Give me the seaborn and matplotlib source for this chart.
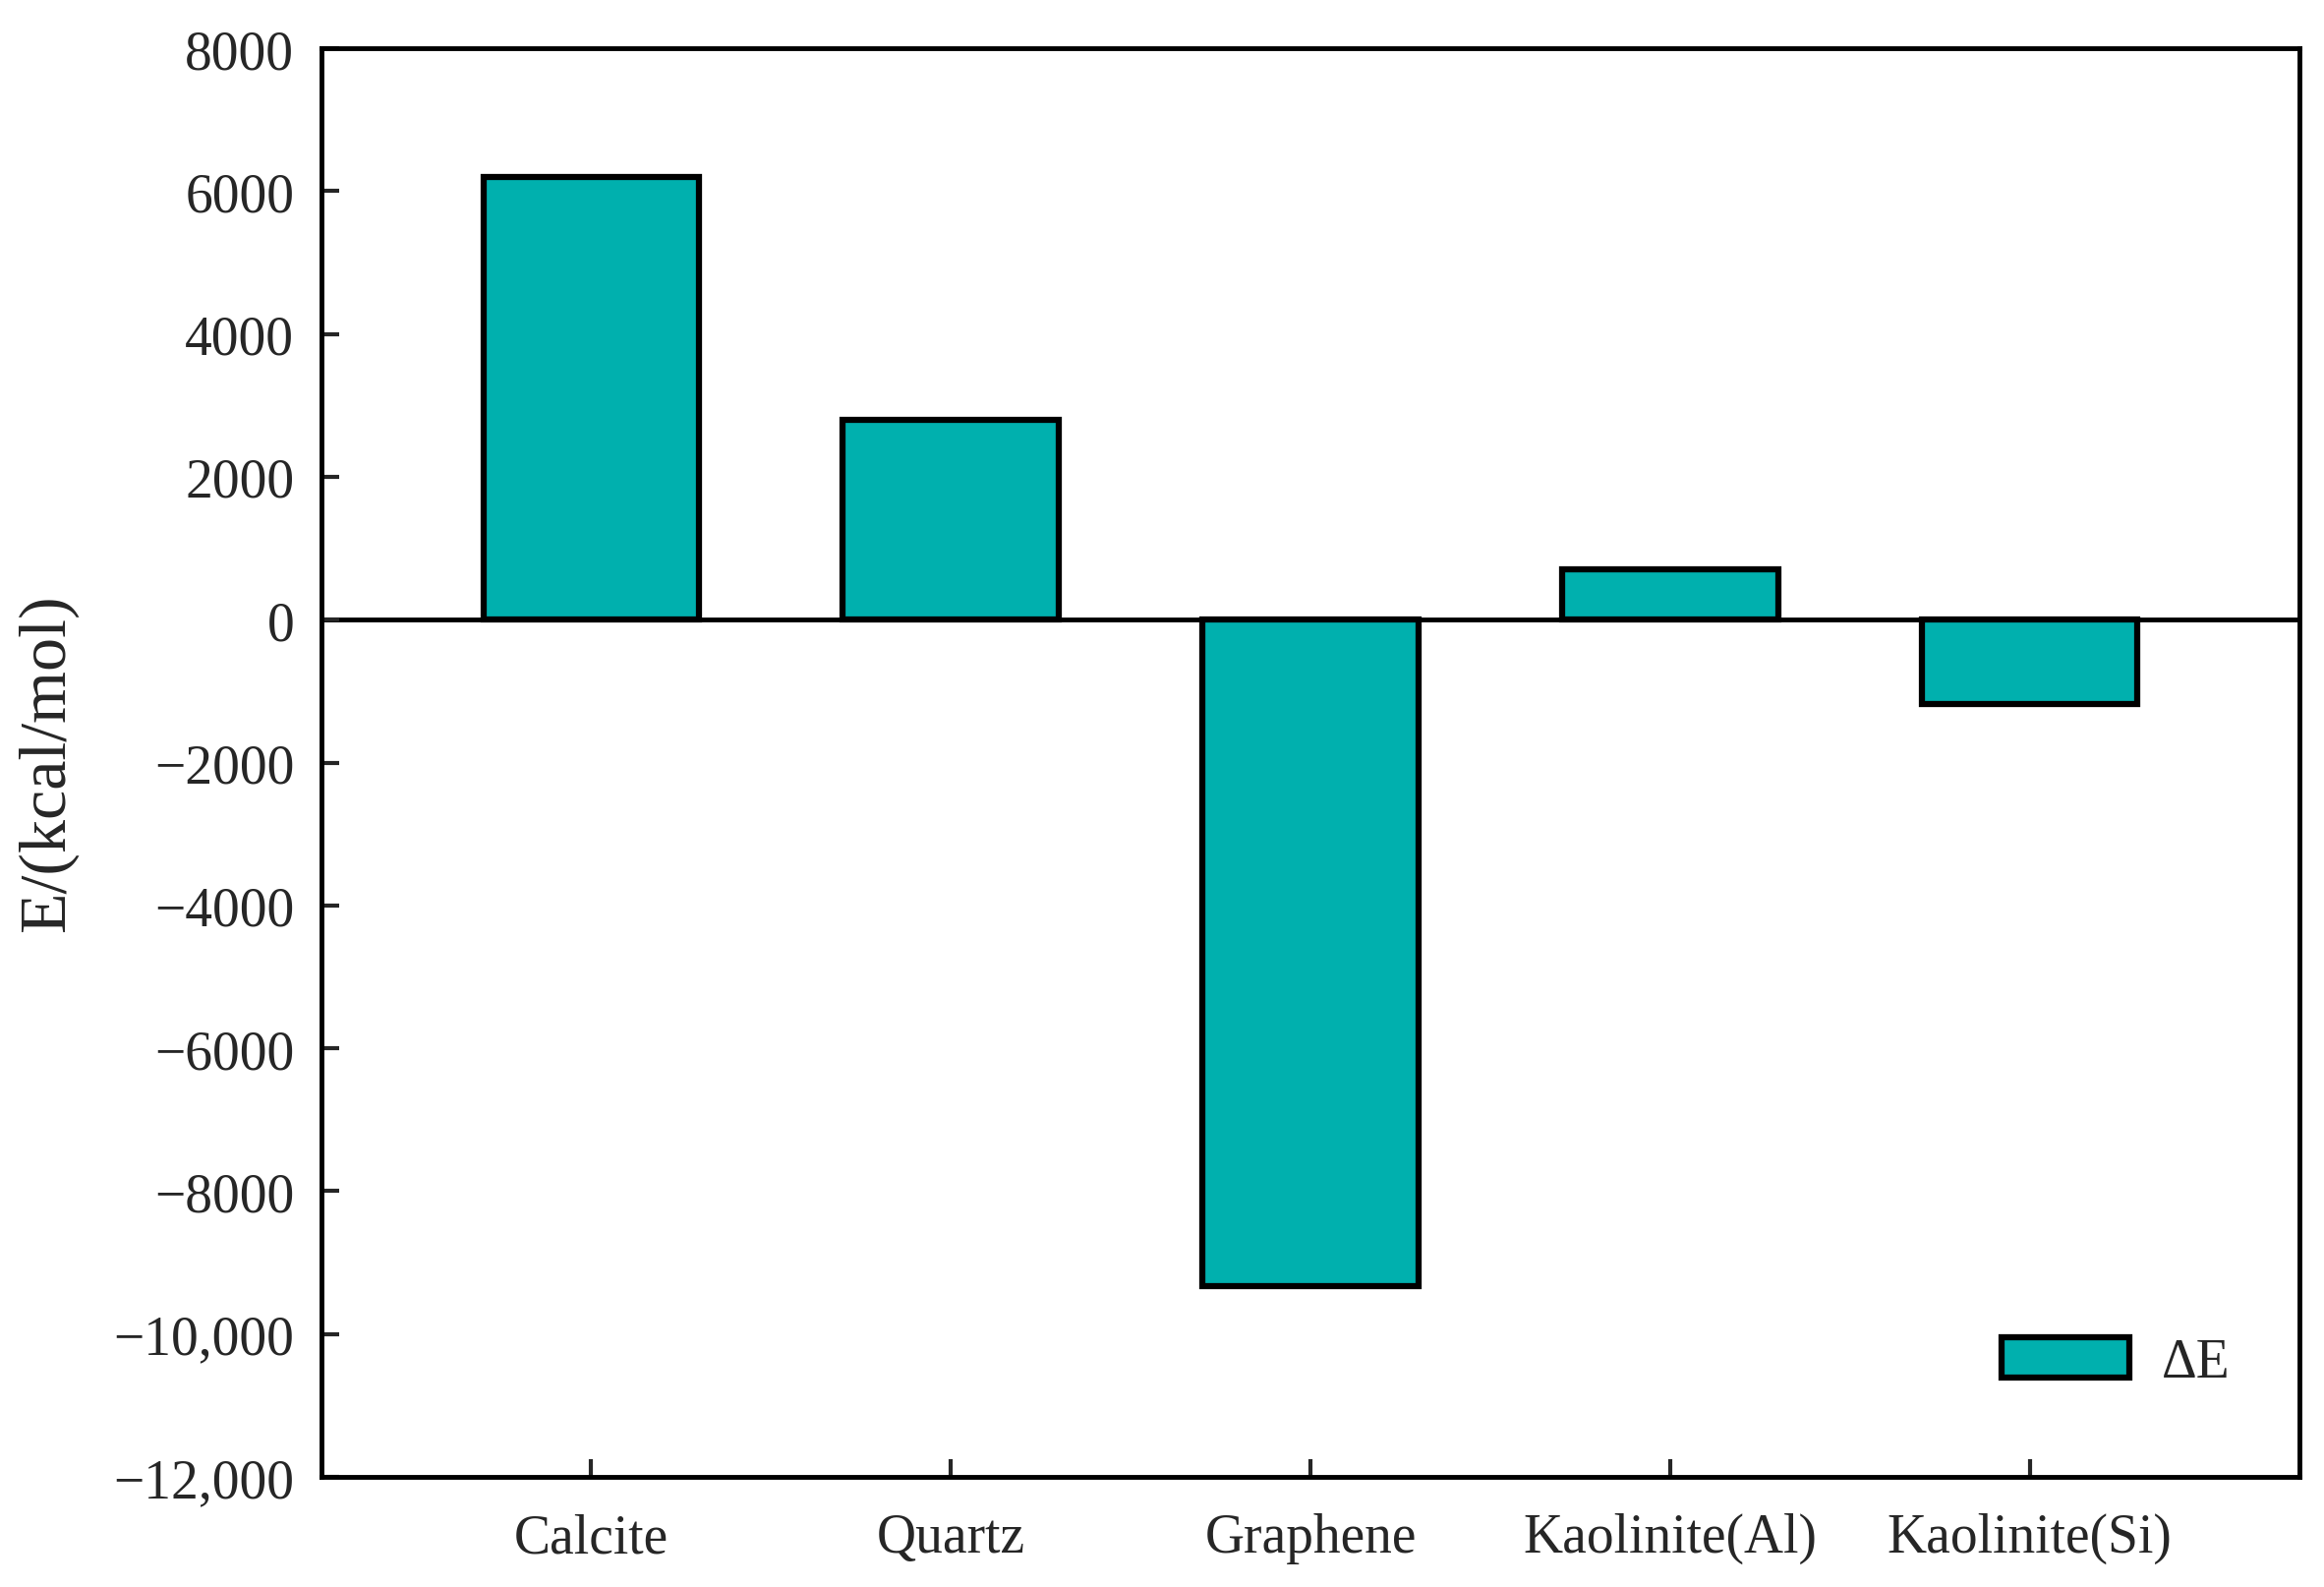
import matplotlib
matplotlib.use("Agg")
import matplotlib.pyplot as plt
import seaborn as sns
import pandas as pd

# === Datos ===
materials = ["Calcite", "Quartz", "Graphene", "Kaolinite(Al)", "Kaolinite(Si)"]
delta_e = [6200, 2800, -9330, 705, -1180]
y_ticks = [-12000, -10000, -8000, -6000, -4000, -2000, 0, 2000, 4000, 6000, 8000]
y_tick_labels = ["\u221212,000", "\u221210,000", "\u22128000", "\u22126000", "\u22124000",
                 "\u22122000", "0", "2000", "4000", "6000", "8000"]

df = pd.DataFrame({"material": materials, "dE": delta_e})

sns.set_style("white")
plt.rcParams["font.family"] = ["Liberation Serif", "DejaVu Serif"]
plt.rcParams["xtick.direction"] = "in"
plt.rcParams["ytick.direction"] = "in"

fig = plt.figure(figsize=(23.64, 16.15), dpi=100)
ax = fig.add_axes([0.1383, 0.0693, 0.8511, 0.8997])

sns.barplot(data=df, x="material", y="dE", color="#00B0AE", saturation=1,
            width=0.6, edgecolor="black", linewidth=4.5, label="\u0394E", ax=ax)

ax.axhline(0, color="black", linewidth=3.5, zorder=0.5)
ax.set_xlim(-0.75, 4.75)
ax.set_ylim(-12000, 8000)
ax.set_yticks(y_ticks)
ax.set_yticklabels(y_tick_labels)
ax.set_xlabel("")
ax.set_ylabel("E/(kcal/mol)", fontsize=49)
ax.yaxis.set_label_coords(-0.123, 0.5)

ax.tick_params(axis="both", direction="in", length=13, width=3,
               labelsize=40, left=True, bottom=True, top=False, right=False)
ax.tick_params(axis="x", pad=26)
ax.tick_params(axis="y", pad=20)
for s in ax.spines.values():
    s.set_visible(True)
    s.set_linewidth(3.5)
    s.set_color("black")

ax.legend(loc="center right", frameon=False, fontsize=40, borderpad=0,
          bbox_to_anchor=(0.979, 0.080), handlelength=2.34, handleheight=0.74,
          handletextpad=0.6)

fig.savefig("out.png", dpi=100)
